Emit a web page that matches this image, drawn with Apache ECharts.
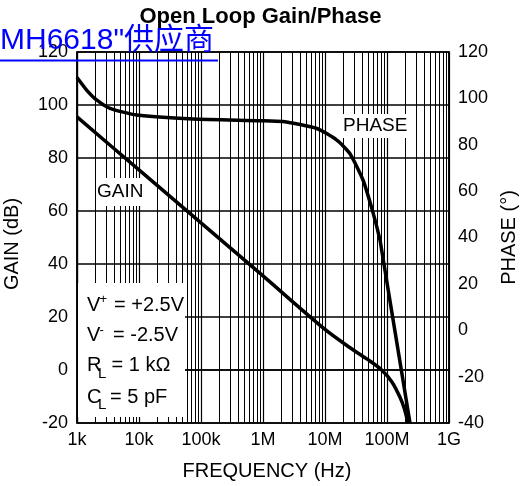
<!DOCTYPE html>
<html>
<head>
<meta charset="utf-8">
<script src="https://cdn.jsdelivr.net/npm/echarts@6/dist/echarts.min.js"></script>
<style>
html, body { margin: 0; padding: 0; background: #fff; }
#chart { width: 521px; height: 486px; }
</style>
</head>
<body>
<div id="chart"></div>
<script>
let $ = a => document.querySelector(a)

// 频率刻度
const freqTicks = ['1k', '10k', '100k', '1M', '10M', '100M', '1G']

// GAIN (dB) 曲线
const gainFreq = [1e3, 1e4, 1e5, 1e6, 1e7, 2.5e7, 5e7, 8.2e7, 1.2e8, 1.6e8, 1.9e8, 2.18e8]
const gainDb = [95.5, 75.5, 55.5, 35.5, 15.3, 8.5, 3.8, 0, -4.5, -10, -14.5, -20]

// PHASE (°) 曲线
const phaseFreq = [1e3, 1.43e3, 2.07e3, 3.4e3, 9.2e3, 7.4e4, 9e5, 2.1e6, 7.4e6, 1.55e7, 2.5e7, 4.1e7, 6e7, 7.7e7, 8.2e7, 2.35e8]
const phaseDeg = [109, 103.6, 99.3, 95.7, 92.8, 91.1, 90.4, 90, 87, 82, 76.3, 64.8, 50.4, 39, 34.6, -40]

// 对数网格的次刻度线 (2..9 每个十倍频)
let minorFreq = []
for (let d = 3; d < 9; d++) {
    for (let m = 2; m <= 9; m++) minorFreq.push(m * Math.pow(10, d))
}

const FONT = '"Liberation Sans", Arial, sans-serif'

let txt = (x, y, s, size, weight) => ({
    type: 'text', z: 10, silent: true, x: x, y: y,
    style: {
        text: s, font: (weight || 'normal') + ' ' + size + 'px ' + FONT, fill: '#000',
        verticalAlign: 'middle', textVerticalAlign: 'middle'
    }
})

let whiteBox = (x, y, w, h) => ({
    type: 'rect', z: 3, silent: true,
    shape: { x: x, y: y, width: w, height: h },
    style: { fill: '#fff' }
})

echarts.init($('#chart')).setOption({
    animation: false,
    title: {
        text: 'Open Loop Gain/Phase',
        left: 'center', top: 6, padding: 0,
        textStyle: { fontFamily: FONT, fontSize: 22, fontWeight: 'bold', color: '#000' }
    },
    grid: {
        left: 77, right: 72, top: 52, bottom: 63,
        outerBoundsMode: 'none', containLabel: false,
        show: true, borderColor: '#000', borderWidth: 1.5, backgroundColor: 'transparent'
    },
    xAxis: {
        type: 'log', logBase: 10, min: 1e3, max: 1e9, splitNumber: 6,
        name: 'FREQUENCY (Hz)', nameLocation: 'middle', nameGap: 38,
        nameTextStyle: { fontFamily: FONT, fontSize: 20, color: '#000', padding: [0, 0, 0, 8] },
        axisLine: { show: true, lineStyle: { color: '#000', width: 1.5 } },
        axisTick: { show: false },
        axisLabel: {
            fontFamily: FONT, fontSize: 18, color: '#000', margin: 8,
            formatter: v => freqTicks[Math.round(Math.log10(v)) - 3]
        },
        splitLine: { show: true, lineStyle: { color: '#000', width: 1.2 } }
    },
    yAxis: [
        {
            type: 'value', min: -20, max: 120, interval: 20,
            name: 'GAIN (dB)', nameLocation: 'middle', nameGap: 55, nameRotate: 90,
            nameTextStyle: { fontFamily: FONT, fontSize: 20, color: '#000', padding: [0, 13, 0, 0] },
            axisLine: { show: true, lineStyle: { color: '#000', width: 1.5 } },
            axisTick: { show: false },
            axisLabel: { fontFamily: FONT, fontSize: 18, color: '#000', margin: 9 },
            splitLine: { show: true, lineStyle: { color: '#000', width: 1.5 } }
        },
        {
            type: 'value', min: -40, max: 120, interval: 20, position: 'right',
            name: 'PHASE (°)', nameLocation: 'middle', nameGap: 50, nameRotate: 90,
            nameTextStyle: { fontFamily: FONT, fontSize: 20, color: '#000' },
            axisLine: { show: true, lineStyle: { color: '#000', width: 1.5 } },
            axisTick: { show: false },
            axisLabel: { fontFamily: FONT, fontSize: 18, color: '#000', margin: 9 },
            splitLine: { show: false }
        }
    ],
    series: [
        {
            // 只用来画次网格线
            type: 'line', data: [], z: 1, silent: true,
            markLine: {
                z: 1, silent: true, symbol: ['none', 'none'],
                label: { show: false },
                emphasis: { disabled: true },
                lineStyle: { color: '#000', width: 1, type: 'solid' },
                data: minorFreq.map(f => ({ xAxis: f }))
            }
        },
        {
            name: 'GAIN', type: 'line', z: 5,
            data: gainFreq.map((f, i) => [f, gainDb[i]]),
            symbol: 'none', smooth: 0.3,
            lineStyle: { color: '#000', width: 3.5 }
        },
        {
            name: 'PHASE', type: 'line', z: 5, yAxisIndex: 1,
            data: phaseFreq.map((f, i) => [f, phaseDeg[i]]),
            symbol: 'none', smooth: 0.2,
            lineStyle: { color: '#000', width: 3.5 }
        }
    ],
    graphic: [
        // 标签的白底
        whiteBox(78, 283, 107, 134),
        whiteBox(97, 178, 53, 28),
        whiteBox(341, 114, 68, 24),

        txt(97, 192, 'GAIN', 19),
        txt(343, 126, 'PHASE', 19),

        // 测试条件
        txt(87, 305.5, 'V', 20), txt(99.5, 299, '+', 13), txt(114, 305.5, '= +2.5V', 20),
        txt(87, 335, 'V', 20), txt(99.5, 330, '-', 13), txt(113, 335, '= -2.5V', 20),
        txt(87, 365.5, 'R', 20), txt(98, 373.5, 'L', 15), txt(111.5, 365.5, '= 1 kΩ', 20),
        txt(87, 397.5, 'C', 20), txt(98, 405, 'L', 15), txt(110, 397.5, '= 5 pF', 20),

        // 蓝色链接文字
        {
            type: 'text', z: 20, silent: true, x: 0, y: 41,
            style: {
                text: 'MH6618"供应商', fill: '#0000ff',
                font: 'normal 30px "Liberation Sans", "Noto Sans CJK SC", sans-serif',
                verticalAlign: 'middle', textVerticalAlign: 'middle'
            }
        },
        {
            type: 'line', z: 20, silent: true,
            shape: { x1: 0, y1: 60.5, x2: 218, y2: 60.5 },
            style: { stroke: '#0000ff', lineWidth: 2 }
        }
    ]
})
</script>
</body>
</html>
